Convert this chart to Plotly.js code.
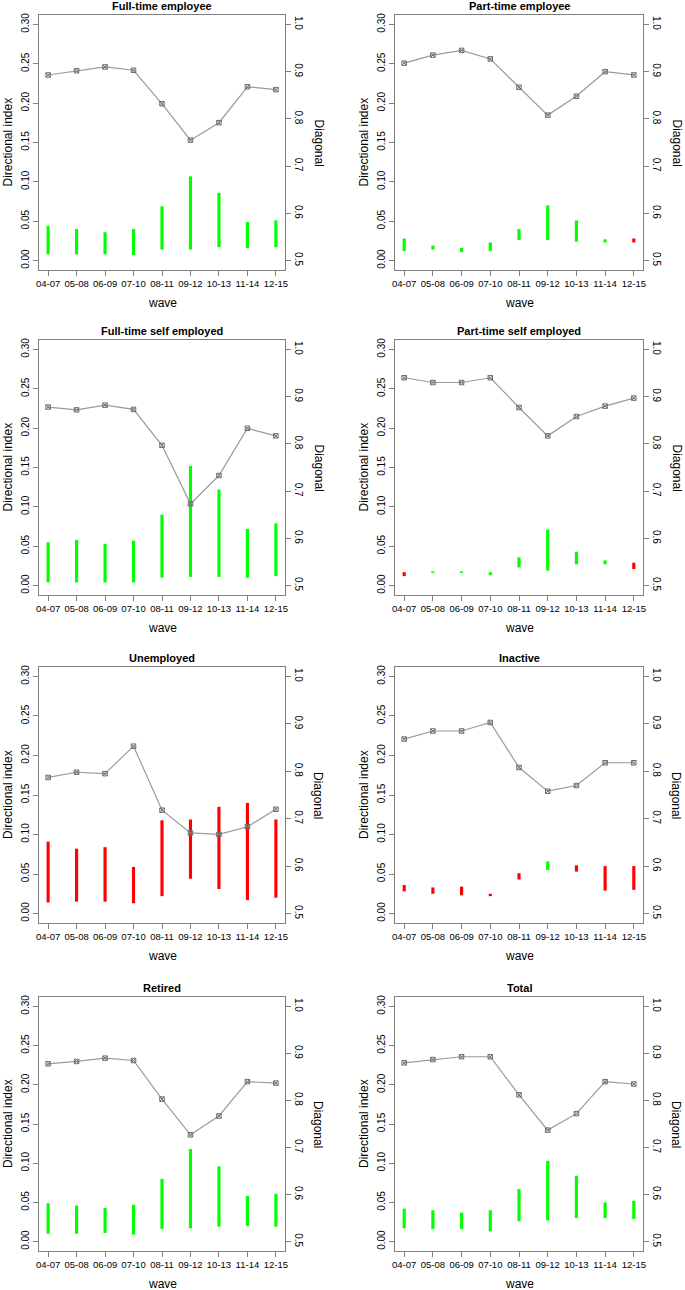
<!DOCTYPE html>
<html>
<head>
<meta charset="utf-8">
<script src="https://cdn.plot.ly/plotly-3.0.1.min.js"></script>
<style>html,body{margin:0;padding:0;background:#fff;}#chart{width:685px;height:1290px;}</style>
</head>
<body>
<div id="chart"></div>
<script>
// ---- data ----
const waves = ['04-07','05-08','06-09','07-10','08-11','09-12','10-13','11-14','12-15'];
const panelTitles = ['Full-time employee','Part-time employee','Full-time self employed','Part-time self employed','Unemployed','Inactive','Retired','Total'];

// Directional index intervals (low / high) and direction (+ green, - red)
const ftEmpLo   = [0.008,0.008,0.008,0.007,0.014,0.014,0.017,0.016,0.017];
const ftEmpHi   = [0.044,0.040,0.036,0.040,0.069,0.107,0.086,0.049,0.051];
const ftEmpDir  = ['+','+','+','+','+','+','+','+','+'];
const ftEmpDiag = [0.893,0.902,0.910,0.903,0.832,0.755,0.792,0.868,0.862];

const ptEmpLo   = [0.012,0.014,0.011,0.012,0.026,0.026,0.024,0.023,0.023];
const ptEmpHi   = [0.028,0.019,0.016,0.023,0.040,0.070,0.051,0.027,0.028];
const ptEmpDir  = ['+','+','+','+','+','+','+','+','-'];
const ptEmpDiag = [0.918,0.935,0.945,0.927,0.867,0.808,0.848,0.900,0.893];

const ftSelfLo   = [0.004,0.004,0.004,0.004,0.010,0.011,0.011,0.010,0.012];
const ftSelfHi   = [0.055,0.058,0.053,0.057,0.090,0.152,0.122,0.072,0.079];
const ftSelfDir  = ['+','+','+','+','+','+','+','+','+'];
const ftSelfDiag = [0.878,0.872,0.882,0.873,0.797,0.673,0.733,0.833,0.817];

const ptSelfLo   = [0.012,0.016,0.016,0.013,0.023,0.019,0.027,0.027,0.021];
const ptSelfHi   = [0.017,0.018,0.018,0.017,0.036,0.071,0.043,0.032,0.029];
const ptSelfDir  = ['-','+','+','+','+','+','+','+','-'];
const ptSelfDiag = [0.940,0.930,0.930,0.940,0.877,0.817,0.858,0.880,0.897];

const unempLo   = [0.014,0.015,0.015,0.013,0.022,0.044,0.031,0.017,0.020];
const unempHi   = [0.091,0.082,0.084,0.059,0.118,0.119,0.135,0.140,0.119];
const unempDir  = ['-','-','-','-','-','-','-','-','-'];
const unempDiag = [0.787,0.798,0.795,0.853,0.718,0.670,0.667,0.683,0.720];

const inactLo   = [0.028,0.025,0.023,0.022,0.043,0.055,0.053,0.029,0.030];
const inactHi   = [0.036,0.033,0.034,0.025,0.051,0.066,0.061,0.060,0.060];
const inactDir  = ['-','-','-','-','-','+','-','-','-'];
const inactDiag = [0.868,0.885,0.885,0.903,0.808,0.758,0.770,0.818,0.818];

const retLo   = [0.010,0.010,0.011,0.009,0.016,0.017,0.019,0.020,0.019];
const retHi   = [0.049,0.046,0.043,0.047,0.080,0.118,0.096,0.058,0.061];
const retDir  = ['+','+','+','+','+','+','+','+','+'];
const retDiag = [0.878,0.883,0.890,0.885,0.803,0.727,0.767,0.840,0.837];

const totLo   = [0.017,0.016,0.016,0.013,0.026,0.027,0.030,0.030,0.029];
const totHi   = [0.042,0.040,0.037,0.040,0.067,0.103,0.084,0.050,0.052];
const totDir  = ['+','+','+','+','+','+','+','+','+'];
const totDiag = [0.880,0.887,0.893,0.893,0.812,0.737,0.772,0.840,0.835];

const panels = [
  [ftEmpLo, ftEmpHi, ftEmpDir, ftEmpDiag],
  [ptEmpLo, ptEmpHi, ptEmpDir, ptEmpDiag],
  [ftSelfLo, ftSelfHi, ftSelfDir, ftSelfDiag],
  [ptSelfLo, ptSelfHi, ptSelfDir, ptSelfDiag],
  [unempLo, unempHi, unempDir, unempDiag],
  [inactLo, inactHi, inactDir, inactDiag],
  [retLo, retHi, retDir, retDiag],
  [totLo, totHi, totDir, totDiag]
];

// ---- layout geometry (pixels) ----
const W = 685, H = 1290;
const colX = [[39, 285], [395, 643]];
const rowY = [[15, 270], [340, 595], [667, 923], [997, 1251]];
const FONT = 'Liberation Sans, Arial, sans-serif';
const GREY = '#808080';

const traces = [];
const layout = {
  width: W, height: H,
  margin: {l: 0, r: 0, t: 0, b: 0},
  paper_bgcolor: '#fff', plot_bgcolor: '#fff',
  showlegend: false,
  font: {family: FONT, size: 10, color: '#000'},
  annotations: []
};

panels.forEach((p, i) => {
  const [lo, hi, dir, diag] = p;
  const n = i + 1;
  const col = i % 2, row = Math.floor(i / 2);
  const [x0, x1] = colX[col];
  const [y0, y1] = rowY[row];
  const xa = 'x' + n, ya = 'y' + (2 * n - 1), ya2 = 'y' + (2 * n);
  const xKey = 'xaxis' + n, yKey = 'yaxis' + (2 * n - 1), y2Key = 'yaxis' + (2 * n);

  traces.push({
    type: 'bar', x: waves, y: hi.map((h, k) => h - lo[k]), base: lo,
    width: 0.11,
    marker: {color: dir.map(d => d === '+' ? '#00FF00' : '#FF0000'), line: {width: 0}},
    xaxis: xa, yaxis: ya, hoverinfo: 'skip'
  });
  traces.push({
    type: 'scatter', mode: 'lines+markers', x: waves, y: diag,
    line: {color: '#9a9a9a', width: 1.2},
    marker: {symbol: 'square-x-open', size: 4.5, color: '#6e6e6e', line: {width: 1, color: '#6e6e6e'}},
    xaxis: xa, yaxis: ya2, hoverinfo: 'skip'
  });

  const dom = [1 - y1 / H, 1 - y0 / H];
  layout[xKey] = {
    domain: [x0 / W, x1 / W], anchor: ya, type: 'category',
    range: [-0.32, 8.32], showgrid: false, zeroline: false,
    showline: true, mirror: true, linecolor: GREY, linewidth: 1,
    ticks: 'outside', ticklen: 5, tickcolor: GREY, tickangle: 0,
    tickfont: {family: FONT, size: 9.5, color: '#000'}, fixedrange: true
  };
  layout[yKey] = {
    domain: dom, anchor: xa, range: [-0.012, 0.312],
    tickvals: [0, 0.05, 0.10, 0.15, 0.20, 0.25, 0.30],
    ticktext: ['0.00','0.05','0.10','0.15','0.20','0.25','0.30'],
    showgrid: false, zeroline: false, showline: true, mirror: true,
    linecolor: GREY, linewidth: 1, ticks: 'outside', ticklen: 5, tickcolor: GREY,
    tickangle: -90, tickfont: {family: FONT, size: 10, color: '#000'}, fixedrange: true
  };
  layout[y2Key] = {
    overlaying: ya, anchor: xa, side: 'right', range: [0.48, 1.02],
    tickvals: [0.5, 0.6, 0.7, 0.8, 0.9, 1.0],
    ticktext: ['0.5','0.6','0.7','0.8','0.9','1.0'],
    showgrid: false, zeroline: false, showline: false,
    ticks: 'outside', ticklen: 5, tickcolor: GREY,
    tickangle: 90, tickfont: {family: FONT, size: 10, color: '#000'}, fixedrange: true
  };

  const cx = (x0 + x1) / 2;
  layout.annotations.push({
    text: '<b>' + panelTitles[i] + '</b>', xref: 'paper', yref: 'paper',
    x: cx / W, y: 1 - (y0 - 9) / H, xanchor: 'center', yanchor: 'middle',
    showarrow: false, font: {family: FONT, size: 11, color: '#000'}
  });
  layout.annotations.push({
    text: 'wave', xref: 'paper', yref: 'paper',
    x: cx / W, y: 1 - (y1 + 33) / H, xanchor: 'center', yanchor: 'middle',
    showarrow: false, font: {family: FONT, size: 12, color: '#000'}
  });
  layout.annotations.push({
    text: 'Directional index', xref: 'paper', yref: 'paper', textangle: -90,
    x: (x0 - 31) / W, y: 1 - ((y0 + y1) / 2) / H, xanchor: 'center', yanchor: 'middle',
    showarrow: false, font: {family: FONT, size: 12, color: '#000'}
  });
  layout.annotations.push({
    text: 'Diagonal', xref: 'paper', yref: 'paper', textangle: 90,
    x: (x1 + 33) / W, y: 1 - ((y0 + y1) / 2) / H, xanchor: 'center', yanchor: 'middle',
    showarrow: false, font: {family: FONT, size: 12, color: '#000'}
  });
});

Plotly.newPlot('chart', traces, layout, {staticPlot: true, displayModeBar: false});
</script>
</body>
</html>
